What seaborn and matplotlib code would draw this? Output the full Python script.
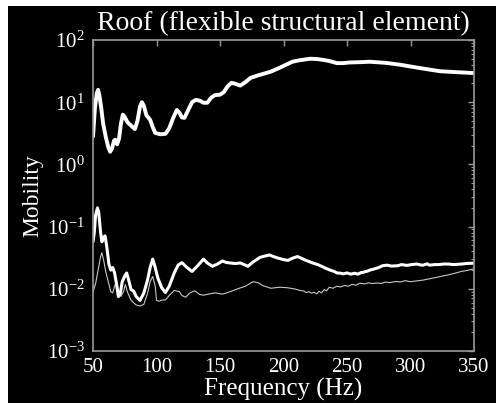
import numpy as np
import pandas as pd
import matplotlib
matplotlib.use("Agg")
import matplotlib.pyplot as plt
import matplotlib.ticker as mticker
from matplotlib.patches import Rectangle
import seaborn as sns

# Driving-point mobility of the roof, upper curve
freq_upper = [50, 51.5, 53, 54, 55, 56.5, 58, 60, 62, 63.5, 65, 66.5, 67.5, 69, 70.5,
              72, 73.5, 75, 77, 80, 83, 85, 87, 88.5, 90, 92, 95, 97, 99, 103, 107,
              110, 113, 116, 118, 120, 122, 125, 128, 131, 134, 137, 140, 143, 146,
              150, 153, 156, 159, 162, 166, 170, 174, 180, 190, 197, 202, 207, 212,
              221, 226, 231, 236, 242, 247, 252, 260, 268, 280, 292, 305, 323, 335, 350]
mob_upper = [2.8, 8, 14, 15.8, 13, 8, 4.5, 2.8, 1.9, 1.6, 1.8, 2.4, 2.5, 2.1, 2.6,
             4.5, 6.3, 5.8, 4.8, 4.2, 3.7, 5, 8.5, 10, 8.8, 6.2, 5.2, 4, 3.2, 3.05, 3.1,
             3.8, 5.5, 7.5, 6.8, 5.7, 5.6, 7.5, 10, 10.9, 10.6, 9.8, 9.8, 11.8, 13,
             13.2, 14.5, 18, 20.5, 19.8, 18.5, 21, 24.6, 27, 31, 35.8, 40, 44.7, 47,
             50, 49.5, 48, 46, 42.5, 42.5, 43.5, 44, 44.7, 43, 40, 36, 31.5, 30.5, 29.4]

# Transfer mobility, thick lower curve
freq_mid = [50, 51, 52, 53.5, 54.5, 56, 57, 58.5, 59.5, 61, 62.5, 64, 65.5, 67, 68.5,
            70, 71.5, 73, 75, 76.5, 78, 80, 82, 84, 87, 90, 93, 95, 97, 99, 101, 104,
            107, 110, 114, 117, 120, 124, 128, 132, 137, 140, 144, 148, 152, 155, 158,
            162, 166, 169, 172, 176, 181.5, 185, 189, 192, 196, 200, 203.5, 207, 211,
            214, 217, 220, 223, 227, 230, 233, 236.6, 240, 242, 245, 247, 250, 253,
            256, 258.6, 261, 263, 266, 268, 272, 275, 278, 281.5, 285, 290, 293, 297,
            301, 305, 308, 310, 313, 315, 319, 322, 326, 330, 334, 340, 344, 349, 350]
mob_mid = [0.057, 0.08, 0.15, 0.2, 0.17, 0.08, 0.057, 0.068, 0.071, 0.045, 0.025, 0.02,
           0.022, 0.018, 0.012, 0.0075, 0.0085, 0.013, 0.016, 0.018, 0.014, 0.0097,
           0.0092, 0.0075, 0.0065, 0.0085, 0.014, 0.022, 0.030, 0.022, 0.015, 0.0105,
           0.0087, 0.011, 0.018, 0.024, 0.0263, 0.022, 0.019, 0.023, 0.030, 0.026,
           0.023, 0.025, 0.028, 0.0265, 0.026, 0.0255, 0.026, 0.0245, 0.023, 0.027,
           0.032, 0.0335, 0.035, 0.033, 0.031, 0.0295, 0.0286, 0.031, 0.033, 0.031,
           0.029, 0.0275, 0.026, 0.0245, 0.023, 0.0215, 0.020, 0.019, 0.018, 0.0178,
           0.0174, 0.018, 0.0172, 0.0178, 0.0172, 0.0182, 0.0185, 0.0192, 0.020,
           0.021, 0.022, 0.0235, 0.024, 0.0232, 0.0235, 0.0245, 0.0238, 0.0245, 0.025,
           0.0242, 0.024, 0.0252, 0.024, 0.0245, 0.0245, 0.025, 0.025, 0.0245, 0.025,
           0.0255, 0.0258, 0.026]

# Transfer mobility, thin lower curve
freq_low = [50, 52, 54, 56, 57, 58.5, 60, 62, 64, 65.5, 67, 68.5, 70, 72, 74, 75.5, 77,
            80, 84, 87, 90, 93, 95, 97, 99, 100, 102, 104, 107, 110, 114, 118, 120, 123,
            126, 130, 134, 137, 142, 146, 152, 158, 164, 170, 176, 180, 184, 190, 197,
            203, 207, 210, 213, 216, 218, 220, 222, 224, 226, 228, 230, 232, 234, 236,
            239, 242, 245, 248, 251, 254, 257, 260, 264, 267, 270, 273, 277, 280, 284,
            288, 292, 296, 300, 305, 310, 315, 320, 325, 330, 335, 340, 345, 350]
mob_low = [0.009, 0.012, 0.02, 0.033, 0.038, 0.028, 0.019, 0.013, 0.009, 0.0086, 0.011,
           0.013, 0.0095, 0.0075, 0.009, 0.0117, 0.009, 0.0065, 0.0055, 0.0053, 0.0056,
           0.0085, 0.013, 0.0158, 0.011, 0.0065, 0.0063, 0.0066, 0.0066, 0.0078, 0.0094,
           0.009, 0.0078, 0.0073, 0.0085, 0.0093, 0.0081, 0.0079, 0.0083, 0.0086,
           0.0082, 0.009, 0.01, 0.011, 0.013, 0.0125, 0.0112, 0.0102, 0.0106, 0.0104,
           0.0101, 0.0098, 0.0094, 0.0092, 0.0087, 0.0090, 0.0085, 0.0088, 0.0083,
           0.0091, 0.0086, 0.0097, 0.0093, 0.0106, 0.0102, 0.011, 0.0107, 0.0113,
           0.0110, 0.0118, 0.0114, 0.0123, 0.0120, 0.0125, 0.0121, 0.0124, 0.0122,
           0.0128, 0.0126, 0.0131, 0.0129, 0.0135, 0.013, 0.0134, 0.0138, 0.0145,
           0.0152, 0.016, 0.0168, 0.0178, 0.019, 0.0198, 0.021]

x_ticks = [50, 100, 150, 200, 250, 300, 350]

sns.set_theme(style="dark")
plt.rcParams["font.family"] = ["Liberation Serif", "DejaVu Serif"]
plt.rcParams["mathtext.fontset"] = "custom"
plt.rcParams["mathtext.rm"] = "Liberation Serif"
plt.rcParams["mathtext.it"] = "Liberation Serif:italic"

fig = plt.figure(figsize=(4.96, 4.03), dpi=100, facecolor="white")
fig.patches.append(Rectangle((8 / 496, 0), 1, 397 / 403, transform=fig.transFigure,
                             facecolor="black", edgecolor="none", zorder=-10))
ax = fig.add_axes([93 / 496, 52 / 403, 381 / 496, 311 / 403])
ax.set_facecolor("black")

sns.lineplot(x=freq_low, y=mob_low, ax=ax, color="#c8c8c8", linewidth=0.8,
             estimator=None, sort=False)
sns.lineplot(x=freq_mid, y=mob_mid, ax=ax, color="white", linewidth=2.2,
             estimator=None, sort=False)
sns.lineplot(x=freq_upper, y=mob_upper, ax=ax, color="white", linewidth=2.8,
             estimator=None, sort=False)

ax.set_yscale("log")
ax.set_xlim(50, 350)
ax.set_ylim(1e-3, 1e2)
ax.set_xticks(x_ticks)
ax.set_xticklabels([str(t) for t in x_ticks])
ax.yaxis.set_major_locator(mticker.LogLocator(base=10, numticks=10))
ax.yaxis.set_minor_locator(mticker.LogLocator(base=10, subs=np.arange(2, 10), numticks=20))
ax.yaxis.set_major_formatter(mticker.LogFormatterMathtext())
ax.yaxis.set_minor_formatter(mticker.NullFormatter())

for s in ax.spines.values():
    s.set_visible(True)
    s.set_color("#9a9a9a")
    s.set_linewidth(1.2)
ax.grid(False)
ax.tick_params(axis="both", which="both", direction="in", colors="#9a9a9a",
               labelcolor="white", top=True, right=True, labelsize=15)
ax.tick_params(axis="both", which="major", length=4, width=1)
ax.tick_params(axis="y", which="minor", length=2, width=0.8)
ax.tick_params(axis="x", which="major", pad=5)
ax.tick_params(axis="y", which="major", pad=6)

ax.set_title("Roof (flexible structural element)", color="white", fontsize=20, pad=7)
ax.set_xlabel("Frequency (Hz)", color="white", fontsize=18, labelpad=1)
ax.set_ylabel("Mobility", color="white", fontsize=17, labelpad=2)

fig.savefig("out.png", dpi=100, facecolor=fig.get_facecolor())
